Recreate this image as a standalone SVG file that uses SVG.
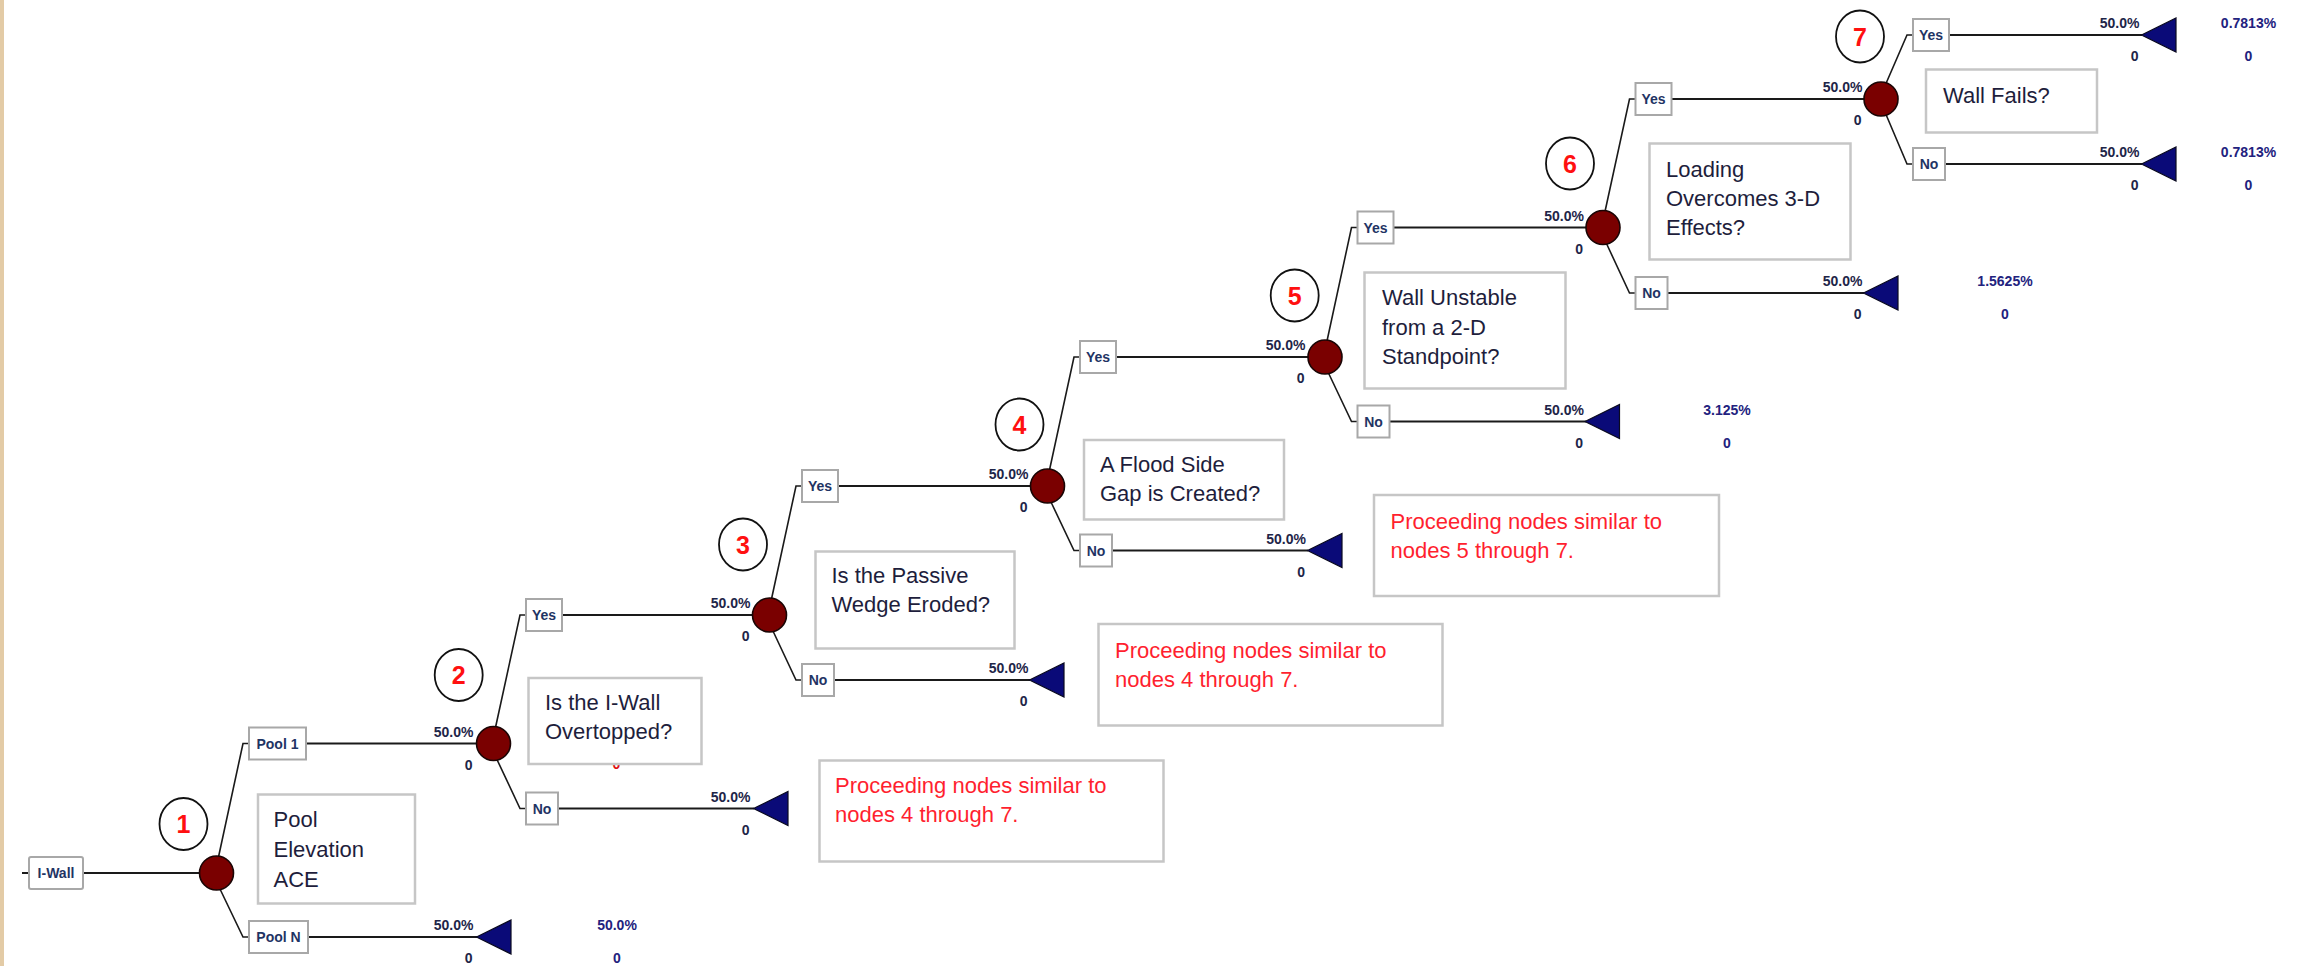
<svg xmlns="http://www.w3.org/2000/svg" width="2310" height="966" viewBox="0 0 2310 966">
<style>
.ln{stroke:#1a1a1a;stroke-width:2;fill:none}
.sl{stroke:#1a1a1a;stroke-width:1.6;fill:none}
.lb{fill:#fff;stroke:#a8a8a8;stroke-width:2}
.lt{font-family:"Liberation Sans",Arial,sans-serif;font-weight:bold;font-size:14px;fill:#1f3464;text-anchor:middle}
.ch{fill:#7a0000;stroke:#1a0505;stroke-width:1.6}
.tr{fill:#0a0a78;stroke:#0a0a20;stroke-width:1.2}
.pr{font-family:"Liberation Sans",Arial,sans-serif;font-weight:bold;font-size:14px;fill:#1e2548;text-anchor:end}
.fv{font-family:"Liberation Sans",Arial,sans-serif;font-weight:bold;font-size:14px;fill:#22227e;text-anchor:middle}
.qb{fill:#fff;stroke:#c6c6c6;stroke-width:2.5}
.qt{font-family:"Liberation Sans",Arial,sans-serif;font-size:22px;fill:#1e1e3c}
.rt{font-family:"Liberation Sans",Arial,sans-serif;font-size:22px;fill:#ff1f2f}
.nc{fill:#fff;stroke:#111;stroke-width:1.8}
.nn{font-family:"Liberation Sans",Arial,sans-serif;font-weight:bold;font-size:25px;fill:#ff1010;text-anchor:middle}
</style>
<rect x="0" y="0" width="4" height="966" fill="#e3cba6"/>

<g id="connectors">
  <!-- root -->
  <line class="ln" x1="22" y1="873" x2="29" y2="873"/>
  <line class="ln" x1="83" y1="873" x2="216.5" y2="873"/>
  <!-- N1 -->
  <polyline class="sl" points="218.5,857 243,743.5 249,743.5"/>
  <line class="ln" x1="306" y1="743.5" x2="493.5" y2="743.5"/>
  <polyline class="sl" points="219.5,888 243,937 249,937"/>
  <line class="ln" x1="308" y1="937" x2="477" y2="937"/>
  <!-- N2 -->
  <polyline class="sl" points="495.5,727.5 520,615 526,615"/>
  <line class="ln" x1="562" y1="615" x2="769.5" y2="615"/>
  <polyline class="sl" points="496.5,758.5 520,808.5 526,808.5"/>
  <line class="ln" x1="558" y1="808.5" x2="754" y2="808.5"/>
  <!-- N3 -->
  <polyline class="sl" points="771.5,599 796,486 802,486"/>
  <line class="ln" x1="838" y1="486" x2="1047.5" y2="486"/>
  <polyline class="sl" points="772.5,630 796,680 802,680"/>
  <line class="ln" x1="834" y1="680" x2="1030" y2="680"/>
  <!-- N4 -->
  <polyline class="sl" points="1049.5,470 1074,357 1080,357"/>
  <line class="ln" x1="1116" y1="357" x2="1325" y2="357"/>
  <polyline class="sl" points="1050.5,501 1074,550.5 1080,550.5"/>
  <line class="ln" x1="1112" y1="550.5" x2="1308" y2="550.5"/>
  <!-- N5 -->
  <polyline class="sl" points="1327,341 1351.5,227.5 1357.5,227.5"/>
  <line class="ln" x1="1393.5" y1="227.5" x2="1603" y2="227.5"/>
  <polyline class="sl" points="1328,372 1351.5,421.5 1357.5,421.5"/>
  <line class="ln" x1="1389.5" y1="421.5" x2="1586" y2="421.5"/>
  <!-- N6 -->
  <polyline class="sl" points="1605,211.5 1629.5,99 1635.5,99"/>
  <line class="ln" x1="1671.5" y1="99" x2="1881" y2="99"/>
  <polyline class="sl" points="1606,242.5 1629.5,293 1635.5,293"/>
  <line class="ln" x1="1667.5" y1="293" x2="1864" y2="293"/>
  <!-- N7 -->
  <polyline class="sl" points="1886,83.5 1907,35 1913,35"/>
  <line class="ln" x1="1949" y1="35" x2="2142" y2="35"/>
  <polyline class="sl" points="1886,114.5 1907,164 1913,164"/>
  <line class="ln" x1="1945" y1="164" x2="2142" y2="164"/>
</g>

<g id="root">
  <rect class="lb" x="29" y="857" width="54" height="32" rx="2"/>
  <text class="lt" x="56" y="878">I-Wall</text>
</g>

<g id="node1">
  <ellipse class="nc" cx="183.5" cy="824" rx="24" ry="26"/>
  <text class="nn" x="183.5" y="833">1</text>
  <circle class="ch" cx="216.5" cy="873" r="17"/>
  <rect class="qb" x="258" y="794.5" width="157" height="109"/>
  <text class="qt" x="273.5" y="827">Pool</text>
  <text class="qt" x="273.5" y="857">Elevation</text>
  <text class="qt" x="273.5" y="887">ACE</text>
  <rect class="lb" x="249" y="727.5" width="57" height="32"/>
  <text class="lt" x="277.5" y="748.5">Pool 1</text>
  <rect class="lb" x="249" y="921" width="59" height="32"/>
  <text class="lt" x="278.5" y="942">Pool N</text>
  <polygon class="tr" points="476.5,937 511,920 511,954"/>
  <text class="pr" x="473.5" y="930">50.0%</text>
  <text class="pr" x="472.5" y="963">0</text>
  <text class="fv" x="617" y="930">50.0%</text>
  <text class="fv" x="617" y="963">0</text>
</g>

<g id="node2">
  <text class="pr" x="473.5" y="736.5">50.0%</text>
  <text class="pr" x="472.5" y="769.5">0</text>
  <text class="fv" x="616.5" y="769" style="fill:#e01010">0</text>
  <ellipse class="nc" cx="458.7" cy="675" rx="24" ry="26"/>
  <text class="nn" x="458.7" y="684">2</text>
  <circle class="ch" cx="493.5" cy="743.5" r="17"/>
  <rect class="qb" x="528.5" y="678" width="173" height="86"/>
  <text class="qt" x="545" y="710">Is the I-Wall</text>
  <text class="qt" x="545" y="739">Overtopped?</text>
  <rect class="lb" x="526" y="599" width="36" height="32"/>
  <text class="lt" x="544" y="620">Yes</text>
  <rect class="lb" x="526" y="792.5" width="32" height="32"/>
  <text class="lt" x="542" y="813.5">No</text>
  <polygon class="tr" points="753.5,808.5 788,791.5 788,825.5"/>
  <text class="pr" x="750.5" y="801.5">50.0%</text>
  <text class="pr" x="749.5" y="834.5">0</text>
  <rect class="qb" x="819.5" y="760.5" width="344" height="101"/>
  <text class="rt" x="835" y="792.5">Proceeding nodes similar to</text>
  <text class="rt" x="835" y="821.5">nodes 4 through 7.</text>
</g>

<g id="node3">
  <text class="pr" x="750.5" y="608">50.0%</text>
  <text class="pr" x="749.5" y="641">0</text>
  <ellipse class="nc" cx="743" cy="544.5" rx="24" ry="26"/>
  <text class="nn" x="743" y="553.5">3</text>
  <circle class="ch" cx="769.5" cy="615" r="17"/>
  <rect class="qb" x="815.5" y="551.5" width="199" height="97"/>
  <text class="qt" x="831.5" y="583">Is the Passive</text>
  <text class="qt" x="831.5" y="612">Wedge Eroded?</text>
  <rect class="lb" x="802" y="470" width="36" height="32"/>
  <text class="lt" x="820" y="491">Yes</text>
  <rect class="lb" x="802" y="664" width="32" height="32"/>
  <text class="lt" x="818" y="685">No</text>
  <polygon class="tr" points="1029.5,680 1064,663 1064,697"/>
  <text class="pr" x="1028.5" y="673">50.0%</text>
  <text class="pr" x="1027.5" y="706">0</text>
  <rect class="qb" x="1098.5" y="624" width="344" height="101.5"/>
  <text class="rt" x="1115" y="657.5">Proceeding nodes similar to</text>
  <text class="rt" x="1115" y="687">nodes 4 through 7.</text>
</g>

<g id="node4">
  <text class="pr" x="1028.5" y="479">50.0%</text>
  <text class="pr" x="1027.5" y="512">0</text>
  <ellipse class="nc" cx="1019.5" cy="424.5" rx="24" ry="26"/>
  <text class="nn" x="1019.5" y="433.5">4</text>
  <circle class="ch" cx="1047.5" cy="486" r="17"/>
  <rect class="qb" x="1084" y="440" width="200" height="79.5"/>
  <text class="qt" x="1100" y="472">A Flood Side</text>
  <text class="qt" x="1100" y="501">Gap is Created?</text>
  <rect class="lb" x="1080" y="341" width="36" height="32"/>
  <text class="lt" x="1098" y="362">Yes</text>
  <rect class="lb" x="1080" y="534.5" width="32" height="32"/>
  <text class="lt" x="1096" y="555.5">No</text>
  <polygon class="tr" points="1307.5,550.5 1342,533.5 1342,567.5"/>
  <text class="pr" x="1306" y="543.5">50.0%</text>
  <text class="pr" x="1305" y="576.5">0</text>
  <rect class="qb" x="1374" y="495" width="345" height="101"/>
  <text class="rt" x="1390.5" y="529">Proceeding nodes similar to</text>
  <text class="rt" x="1390.5" y="558">nodes 5 through 7.</text>
</g>

<g id="node5">
  <text class="pr" x="1305.5" y="350">50.0%</text>
  <text class="pr" x="1304.5" y="383">0</text>
  <ellipse class="nc" cx="1294.7" cy="295.5" rx="24" ry="26"/>
  <text class="nn" x="1294.7" y="304.5">5</text>
  <circle class="ch" cx="1325" cy="357" r="17"/>
  <rect class="qb" x="1364.5" y="272.5" width="201" height="116"/>
  <text class="qt" x="1382" y="305">Wall Unstable</text>
  <text class="qt" x="1382" y="335">from a 2-D</text>
  <text class="qt" x="1382" y="364">Standpoint?</text>
  <rect class="lb" x="1357.5" y="211.5" width="36" height="32"/>
  <text class="lt" x="1375.5" y="232.5">Yes</text>
  <rect class="lb" x="1357.5" y="405.5" width="32" height="32"/>
  <text class="lt" x="1373.5" y="426.5">No</text>
  <polygon class="tr" points="1585,421.5 1619.5,404.5 1619.5,438.5"/>
  <text class="pr" x="1584" y="414.5">50.0%</text>
  <text class="pr" x="1583" y="447.5">0</text>
  <text class="fv" x="1727" y="414.5">3.125%</text>
  <text class="fv" x="1727" y="447.5">0</text>
</g>

<g id="node6">
  <text class="pr" x="1584" y="220.5">50.0%</text>
  <text class="pr" x="1583" y="253.5">0</text>
  <ellipse class="nc" cx="1570" cy="163.5" rx="24" ry="26"/>
  <text class="nn" x="1570" y="172.5">6</text>
  <circle class="ch" cx="1603" cy="227.5" r="17"/>
  <rect class="qb" x="1649.5" y="143.5" width="201" height="116"/>
  <text class="qt" x="1666" y="176.5">Loading</text>
  <text class="qt" x="1666" y="206">Overcomes 3-D</text>
  <text class="qt" x="1666" y="235">Effects?</text>
  <rect class="lb" x="1635.5" y="83" width="36" height="32"/>
  <text class="lt" x="1653.5" y="104">Yes</text>
  <rect class="lb" x="1635.5" y="277" width="32" height="32"/>
  <text class="lt" x="1651.5" y="298">No</text>
  <polygon class="tr" points="1863.5,293 1898,276 1898,310"/>
  <text class="pr" x="1862.5" y="286">50.0%</text>
  <text class="pr" x="1861.5" y="319">0</text>
  <text class="fv" x="2005" y="286">1.5625%</text>
  <text class="fv" x="2005" y="319">0</text>
</g>

<g id="node7">
  <text class="pr" x="1862.5" y="92">50.0%</text>
  <text class="pr" x="1861.5" y="125">0</text>
  <ellipse class="nc" cx="1860" cy="36.5" rx="24" ry="26"/>
  <text class="nn" x="1860" y="45.5">7</text>
  <circle class="ch" cx="1881" cy="99" r="17"/>
  <rect class="qb" x="1926" y="69.5" width="171" height="63"/>
  <text class="qt" x="1943" y="102.5">Wall Fails?</text>
  <rect class="lb" x="1913" y="19" width="36" height="32"/>
  <text class="lt" x="1931" y="40">Yes</text>
  <rect class="lb" x="1913" y="148" width="32" height="32"/>
  <text class="lt" x="1929" y="169">No</text>
  <polygon class="tr" points="2141.5,35 2176,18 2176,52"/>
  <text class="pr" x="2139.5" y="28">50.0%</text>
  <text class="pr" x="2138.5" y="61">0</text>
  <text class="fv" x="2248.5" y="28">0.7813%</text>
  <text class="fv" x="2248.5" y="61">0</text>
  <polygon class="tr" points="2141.5,164 2176,147 2176,181"/>
  <text class="pr" x="2139.5" y="157">50.0%</text>
  <text class="pr" x="2138.5" y="190">0</text>
  <text class="fv" x="2248.5" y="157">0.7813%</text>
  <text class="fv" x="2248.5" y="190">0</text>
</g>
</svg>
